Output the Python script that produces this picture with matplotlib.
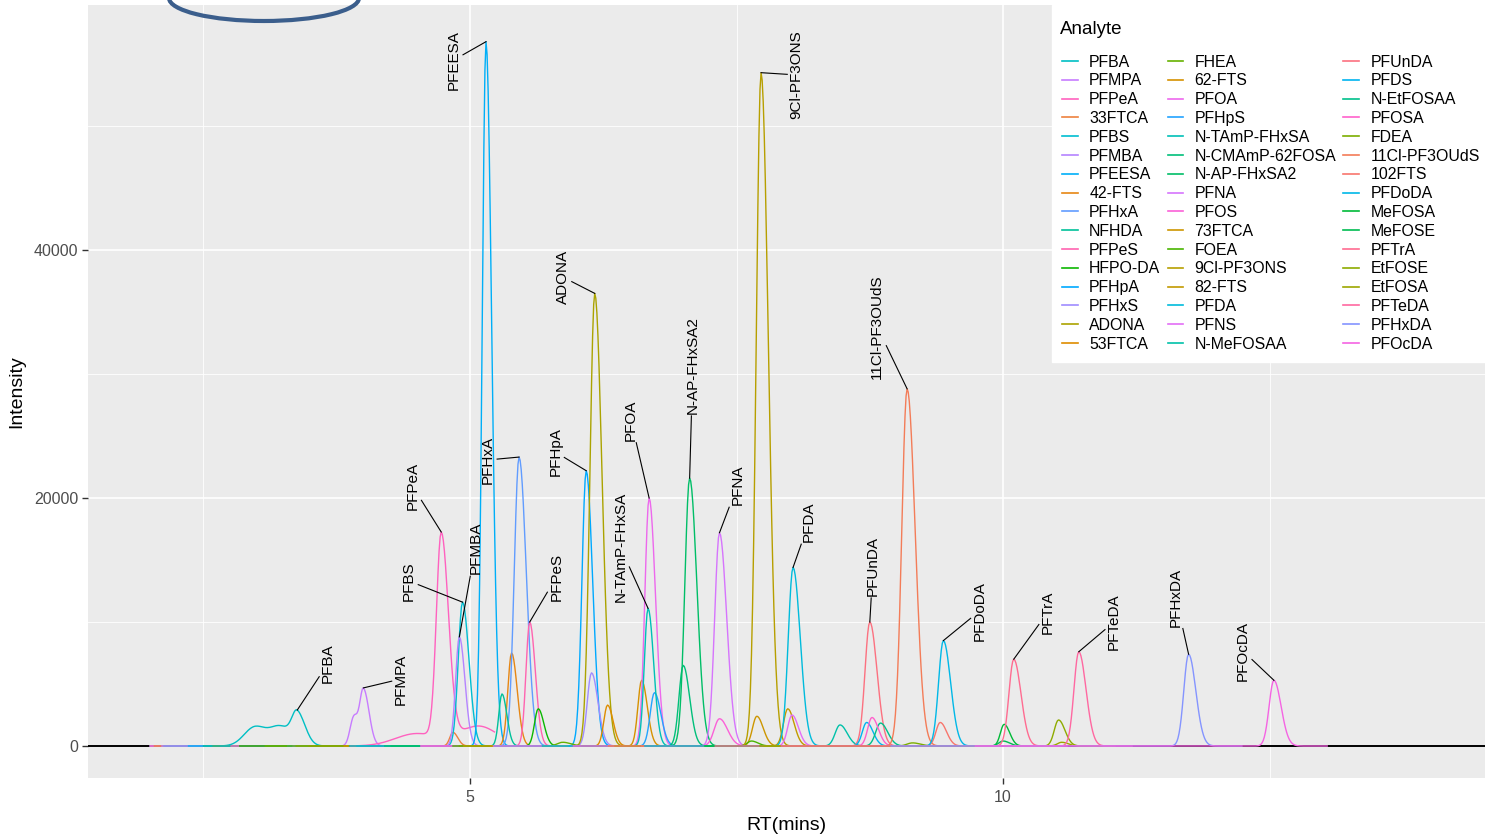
import numpy as np
import matplotlib
matplotlib.use('Agg')
import matplotlib.pyplot as plt
from matplotlib.lines import Line2D
from matplotlib.patches import Ellipse

plt.rcParams['font.family'] = ['Liberation Sans', 'DejaVu Sans']

# analytes in elution (legend) order
analytes = [
    'PFBA', 'PFMPA', 'PFPeA', '33FTCA', 'PFBS', 'PFMBA', 'PFEESA', '42-FTS',
    'PFHxA', 'NFHDA', 'PFPeS', 'HFPO-DA', 'PFHpA', 'PFHxS', 'ADONA', '53FTCA',
    'FHEA', '62-FTS', 'PFOA', 'PFHpS', 'N-TAmP-FHxSA', 'N-CMAmP-62FOSA',
    'N-AP-FHxSA2', 'PFNA', 'PFOS', '73FTCA', 'FOEA', '9Cl-PF3ONS', '82-FTS',
    'PFDA', 'PFNS', 'N-MeFOSAA', 'PFUnDA', 'PFDS', 'N-EtFOSAA', 'PFOSA', 'FDEA',
    '11Cl-PF3OUdS', '102FTS', 'PFDoDA', 'MeFOSA', 'MeFOSE', 'PFTrA', 'EtFOSE',
    'EtFOSA', 'PFTeDA', 'PFHxDA', 'PFOcDA',
]

# apex retention time (min), apex intensity and peak width (sd, min)
peak_rt = [
    3.38, 4.00, 4.73, 4.84, 4.93, 4.90, 5.15, 5.39,
    5.46, 5.30, 5.56, 5.64, 6.09, 6.14, 6.17, 6.29,
    5.87, 6.61, 6.68, 6.73, 6.67, 7.00,
    7.06, 7.34, 7.34, 7.69, 7.64, 7.73, 7.98,
    8.03, 8.02, 8.47, 8.75, 8.72, 8.85, 8.77, 9.15,
    9.10, 9.41, 9.44, 10.01, 10.00, 10.10, 10.52,
    10.55, 10.71, 11.74, 12.54,
]
peak_height = [
    2470, 4600, 16500, 1100, 11600, 8800, 56800, 7500,
    23300, 4200, 10000, 3000, 22200, 5900, 36500, 3300,
    300, 5300, 20000, 4300, 11100, 6500,
    21600, 17200, 2200, 2400, 400, 54300, 3000,
    14400, 2500, 1700, 10000, 1900, 1850, 2300, 250,
    28800, 1900, 8500, 1750, 400, 7000, 2100,
    300, 7600, 7400, 5300,
]
peak_sd = [
    0.050, 0.035, 0.045, 0.030, 0.040, 0.035, 0.035, 0.035,
    0.045, 0.030, 0.035, 0.035, 0.040, 0.040, 0.045, 0.035,
    0.050, 0.035, 0.040, 0.040, 0.035, 0.040,
    0.045, 0.045, 0.050, 0.040, 0.040, 0.045, 0.040,
    0.045, 0.040, 0.045, 0.045, 0.040, 0.045, 0.040, 0.050,
    0.050, 0.040, 0.045, 0.035, 0.040, 0.045, 0.040,
    0.040, 0.045, 0.045, 0.045,
]

# shoulders and humps riding on some traces
extra_analyte = ['PFBA', 'PFBA', 'PFMPA', 'PFPeA', 'PFPeA']
extra_rt = [2.98, 3.22, 3.91, 4.50, 5.08]
extra_height = [1500, 1550, 2300, 1000, 1600]
extra_sd = [0.10, 0.10, 0.035, 0.20, 0.18]

# labelled peaks and where their names sit (RT, intensity)
label_names = [
    'PFBA', 'PFMPA', 'PFPeA', 'PFBS', 'PFMBA', 'PFEESA', 'PFHxA', 'PFPeS',
    'ADONA', 'PFHpA', 'N-TAmP-FHxSA', 'PFOA', 'N-AP-FHxSA2', 'PFNA',
    '9Cl-PF3ONS', 'PFDA', 'PFUnDA', '11Cl-PF3OUdS', 'PFDoDA', 'PFTrA',
    'PFTeDA', 'PFHxDA', 'PFOcDA',
]
label_rt = [
    3.67, 4.35, 4.46, 4.43, 5.05, 4.85, 5.17, 5.81,
    5.87, 5.80, 6.41, 6.51, 7.09, 7.51,
    8.06, 8.18, 8.78, 8.82, 9.78, 10.42,
    11.04, 11.62, 12.25,
]
label_int = [
    6690, 5400, 20970, 13300, 15970, 55330, 23070, 13630,
    37820, 23710, 16050, 26290, 30730, 21050,
    54120, 18070, 14520, 33790, 10890, 10800,
    10000, 12020, 7660,
]


def hue_colour(h, c=100.0, l=65.0):
    # polar LUV -> sRGB, as grDevices::hcl does
    wy, wu, wv = 100.0, 0.1978398, 0.4683363
    hr = np.deg2rad(h)
    u_, v_ = c * np.cos(hr), c * np.sin(hr)
    y = wy * ((l + 16) / 116) ** 3 if l > 7.999592 else wy * l / 903.3
    u = u_ / (13 * l) + wu
    v = v_ / (13 * l) + wv
    x = 9.0 * y * u / (4 * v)
    z = -x / 3 - 5 * y + 3 * y / v

    def gt(a):
        a = a / wy
        a = 1.055 * a ** (1 / 2.4) - 0.055 if a > 0.00304 else 12.92 * a
        return min(max(a, 0.0), 1.0)

    return (gt(3.240479 * x - 1.537150 * y - 0.498535 * z),
            gt(-0.969256 * x + 1.875992 * y + 0.041556 * z),
            gt(0.055648 * x - 0.204043 * y + 1.057311 * z))


# default discrete palette assigned in sorted (collated) order
def collate_key(s):
    return s.replace('-', '').lower()


sorted_names = sorted(analytes, key=collate_key)
n = len(sorted_names)
hues = np.linspace(15, 375 - 360 / n, n)
colour = {nm: hue_colour(h) for nm, h in zip(sorted_names, hues)}

t = np.round(np.arange(2.0, 13.05, 0.01), 2)


def peak(x, rt, h, sd):
    s = np.where(x < rt, sd, sd * 1.5)
    return h * np.exp(-0.5 * ((x - rt) / s) ** 2)


fig = plt.figure(figsize=(14.85, 8.36), dpi=100)
ax = fig.add_axes([88 / 1485, 58 / 836, 1 - 88 / 1485, (778 - 5) / 836])
ax.set_facecolor('#EBEBEB')
for s in ax.spines.values():
    s.set_visible(False)

ax.axhline(0, color='black', lw=1.4, zorder=2)

apex = {}
for nm, rt, h, sd in zip(analytes, peak_rt, peak_height, peak_sd):
    y = peak(t, rt, h, sd)
    for en, ert, eh, esd in zip(extra_analyte, extra_rt, extra_height, extra_sd):
        if en == nm:
            y = y + eh * np.exp(-0.5 * ((t - ert) / esd) ** 2)
    keep = (t >= max(2.0, rt - 2.8)) & (t <= rt + 0.5)
    ax.plot(t[keep], y[keep], color=colour[nm], lw=1.0, zorder=3)
    i = np.argmin(np.abs(t - rt))
    apex[nm] = (t[i], y[i])

ax.set_xlim(1.417, 14.52)
ax.set_ylim(-2581, 59758)
ax.set_xticks([5, 10])
ax.set_xticks([2.5, 7.5, 12.5], minor=True)
ax.set_yticks([0, 20000, 40000])
ax.set_yticks([10000, 30000, 50000], minor=True)
ax.grid(which='major', color='white', lw=1.2, zorder=0)
ax.grid(which='minor', color='white', lw=0.6, zorder=0)
ax.set_axisbelow(True)
ax.tick_params(which='major', length=4, width=1, color='#333333',
               labelcolor='#4D4D4D', labelsize=11.5)
ax.tick_params(axis='x', which='major', pad=5)
ax.tick_params(axis='y', which='major', pad=3)
ax.tick_params(which='minor', length=0)
ax.set_xlabel('RT(mins)', fontsize=14, labelpad=8)
ax.set_ylabel('Intensity', fontsize=14, labelpad=6)

texts = []
for nm, lx, ly in zip(label_names, label_rt, label_int):
    tx = ax.text(lx, ly, nm, rotation=90, ha='center', va='center',
                 fontsize=11, color='black', zorder=5)
    texts.append((nm, tx))

# legend box; its heading is written separately so it can sit lower
handles = [Line2D([], [], color=colour[nm], lw=1.2) for nm in analytes]
leg = fig.legend(handles, analytes, ncol=3, loc='upper left',
                 bbox_to_anchor=(1052 / 1485, 1 - 5 / 836),
                 bbox_transform=fig.transFigure, borderaxespad=0,
                 fontsize=11.4, title=' ', title_fontsize=13.5,
                 alignment='left', frameon=True, fancybox=False,
                 edgecolor='white', facecolor='white', framealpha=1,
                 handlelength=1.0, handletextpad=0.7, columnspacing=0.45,
                 labelspacing=0.24, borderpad=0.65)
leg._legend_box.sep = 16
leg.set_zorder(6)
fig.text(1060 / 1485, 1 - 30 / 836, 'Analyte', fontsize=13.5,
         ha='left', va='center', zorder=7)

# blue outline drawn across the top edge
fig.add_artist(Ellipse((264 / 1485, 1 + 2 / 836), width=190 / 1485,
                       height=46 / 836, transform=fig.transFigure,
                       fill=False, edgecolor='#3B5E8C', lw=3))

# leader segments: from each apex towards the label centre, stopping at its box
fig.canvas.draw()
inv = ax.transData.inverted()
for nm, tx in texts:
    bb = tx.get_window_extent()
    x0b, x1b, y0b, y1b = bb.x0 - 2, bb.x1 + 2, bb.y0 - 2, bb.y1 + 2
    px, py = ax.transData.transform(apex[nm])
    cx, cy = (bb.x0 + bb.x1) / 2, (bb.y0 + bb.y1) / 2
    dx, dy = cx - px, cy - py
    f = 1.0
    if px < x0b or px > x1b or py < y0b or py > y1b:
        # stop at the box edge the line crosses last
        fs = []
        for lo, hi, p, d in ((x0b, x1b, px, dx), (y0b, y1b, py, dy)):
            if d != 0:
                fs.append(min((lo - p) / d, (hi - p) / d))
        f = max(fs)
    qx, qy = px + f * dx, py + f * dy
    (xa, ya), (xb, yb) = inv.transform([(px, py), (qx, qy)])
    ax.plot([xa, xb], [ya, yb], color='black', lw=0.8, zorder=4)

fig.savefig('out.png', dpi=100)
